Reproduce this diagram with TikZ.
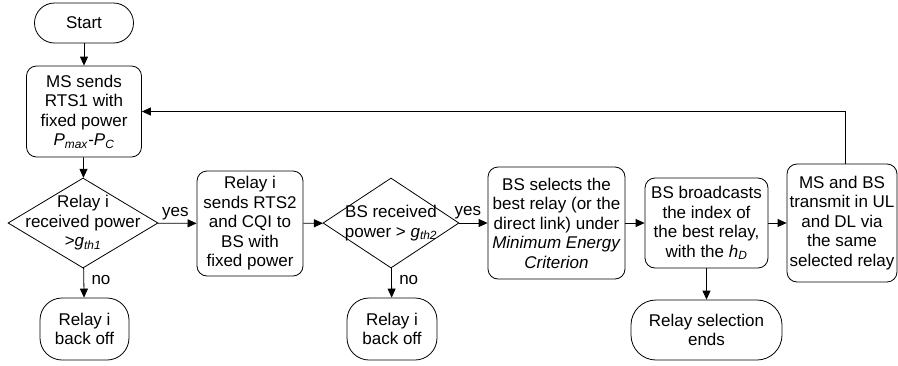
\documentclass[tikz,border=0pt]{standalone}
\usepackage{fontspec}
\setmainfont{Liberation Sans}
\usepackage{tikz}
\usetikzlibrary{shapes.geometric, arrows.meta, positioning}
\tikzset{>={Triangle[length=9pt,width=8pt]}}
\newcommand{\iv}[2]{\textit{#1}\textsubscript{\textit{#2}}}

\begin{document}
\begin{tikzpicture}[x=1pt, y=-1pt, line width=0.8pt,
		font=\fontsize{17}{19.5}\selectfont,
		box/.style={draw, rounded corners=10pt, align=center, inner sep=0pt},
		terminal/.style={draw, rounded corners=22pt, align=center, inner sep=0pt},
		decision/.style={draw, diamond, inner sep=0pt},
		plain/.style={align=center, inner sep=0pt}]
			\useasboundingbox (0,0) rectangle (898,365);
			\node[terminal, rounded corners=20pt, minimum width=99pt, minimum height=40pt] (start) at (84,23) {Start};
			\node[box, minimum width=115pt, minimum height=91pt] (ms) at (84,111.5) {MS sends\\RTS1 with\\fixed power\\\iv{P}{max}-\iv{P}{C}};
			\node[decision, minimum width=150pt, minimum height=90pt] (rx1) at (83,223) {};
			\node[plain] (rx1txt) at (rx1) {Relay i\\received power\\>\iv{g}{th1}};
			\node[terminal, minimum width=89pt, minimum height=62pt] (off1) at (84.5,329) {Relay i\\back off};
			\node[box, minimum width=106pt, minimum height=105pt] (rts2) at (250,223.5) {Relay i\\sends RTS2\\and CQI to\\BS with\\fixed power};
			\node[decision, minimum width=136pt, minimum height=90pt] (rx2) at (391,223) {};
			\node[plain] (rx2txt) at (rx2) {BS received\\power > \iv{g}{th2}};
			\node[terminal, minimum width=90pt, minimum height=62pt] (off2) at (392,329) {Relay i\\back off};
			\node[box, minimum width=137pt, minimum height=112pt] (sel) at (556.5,223) {BS selects the\\best relay (or the\\direct link) under\\\textit{Minimum Energy}\\\textit{Criterion}};
			\node[box, minimum width=123pt, minimum height=90pt] (bc) at (706.5,223) {BS broadcasts\\the index of\\the best relay,\\with the \iv{h}{D}};
			\node[box, minimum width=110pt, minimum height=118pt] (tx) at (842,223) {MS and BS\\transmit in UL\\and DL via\\the same\\selected relay};
			\node[terminal, rounded corners=25pt, minimum width=151pt, minimum height=60pt] (fin) at (706.5,330) {Relay selection\\ends};
			\draw[->] (start) -- (ms);
			\draw[->] (ms) -- (rx1);
			\draw[->] (rx1) -- node[above, pos=0.45]{yes} (rts2);
			\draw[->] (rx1) -- node[right, pos=0.4, xshift=4pt]{no} (off1);
			\draw[->] (rts2) -- (rx2);
			\draw[->] (rx2) -- node[above, pos=0.3]{yes} (sel);
			\draw[->] (rx2) -- node[right, pos=0.4, xshift=4pt]{no} (off2);
			\draw[->] (sel) -- (bc);
			\draw[->] (bc) -- (tx);
			\draw[->] (bc) -- (fin);
			\draw[->] ([xshift=3pt]tx.north) |- (ms.east);
		\end{tikzpicture}
\end{document}
